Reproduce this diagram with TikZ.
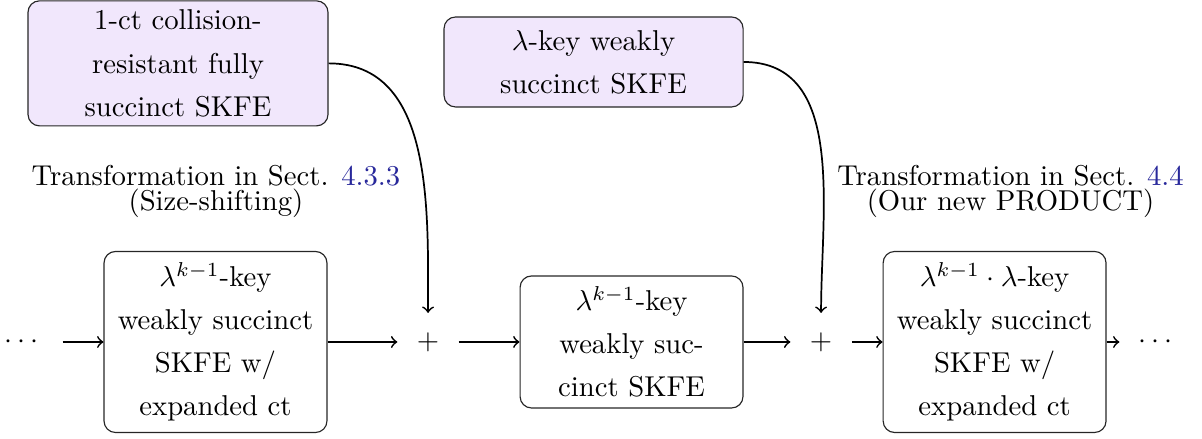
\documentclass[tikz,border=0pt]{standalone}
\usepackage{amsmath}
\usepackage{amssymb}
\usepackage{tikz}
\usetikzlibrary{arrows}
\definecolor{fefill}{RGB}{241,231,252}
\definecolor{refblue}{RGB}{40,40,155}

\begin{document}
\begin{tikzpicture}
			[auto=left,every node/.style={align=center,font=\fontsize{10}{15}\selectfont},
			fe/.style={draw=black!85,rounded corners=4pt,inner sep=0pt,minimum width=2.73cm,minimum height=2.217cm},
			src/.style={fe,fill=fefill},
			op/.style={inner sep=6.6pt},
			tr/.style={font=\fontsize{10}{8.7}\selectfont},
			edge/.style={->,semithick}]
			\useasboundingbox (0,0) rectangle (14.72,5.376);
			
			% the two schemes fed in from above
			\node[src,minimum width=3.674cm,minimum height=1.531cm] (n0) at (2.18,4.6) {1-ct collision-\\resistant fully\\succinct SKFE};
			\node[src,minimum width=3.662cm,minimum height=1.102cm] (n1) at (7.269,4.617) {$\lambda$-key weakly\\succinct SKFE};
			
			\node[tr] (t0) at (2.645,3.037) {Transformation in Sect. {\color{refblue}4.3.3}\\(Size-shifting)};
			\node[tr] (t1) at (12.375,3.037) {Transformation in Sect. {\color{refblue}4.4}\\(Our new PRODUCT)};
			
			% the chain
			\node[op] (d0) at (0.294,1.188) {$\cdots$};
			\node[fe] (n2) at (2.639,1.188) {$\lambda^{k-1}$-key\\weakly succinct\\SKFE w/\\expanded ct};
			\node[op] (p0) at (5.242,1.188) {$+$};
			\node[fe,minimum height=1.617cm] (n3) at (7.734,1.188) {$\lambda^{k-1}$-key\\weakly suc-\\cinct SKFE};
			\node[op] (p1) at (10.055,1.188) {$+$};
			\node[fe] (n4) at (12.18,1.188) {$\lambda^{k-1}\cdot\lambda$-key\\weakly succinct\\SKFE w/\\expanded ct};
			\node[op] (d1) at (14.182,1.188) {$\cdots$};
			
			\draw[edge] (d0) -- (n2);
			\draw[edge] (n2) -- (p0);
			\draw[edge] (p0) -- (n3);
			\draw[edge] (n3) -- (p1);
			\draw[edge] (p1) -- (n4);
			\draw[edge] (n4) -- (d1);
			\draw[edge] (n0.east) to[out=0,in=90] (p0);
			\draw[edge] (n1.east) to[out=0,in=90] (p1);
			\end{tikzpicture}
\end{document}
